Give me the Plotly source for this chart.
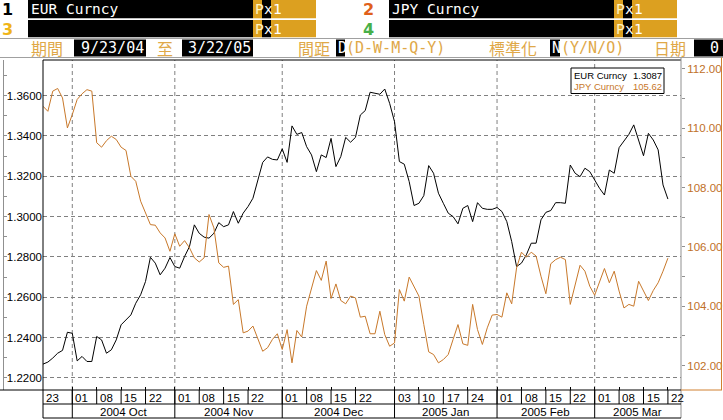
import pandas as pd
import plotly.graph_objects as go

W, H = 723, 420

# ---------------- data ----------------
start_date = "2004-09-23"
end_date = "2005-03-22"
dates = pd.bdate_range(start_date, end_date)

eur_values = [
    1.2268, 1.2278, 1.2298, 1.2322, 1.2336, 1.2426, 1.2421, 1.2284, 1.2306, 1.2281,
    1.2281, 1.2405, 1.2388, 1.2322, 1.2339, 1.2388, 1.2463, 1.2488, 1.2512, 1.2570,
    1.2612, 1.2678, 1.2798, 1.2769, 1.2711, 1.2744, 1.2797, 1.2752, 1.2744, 1.2802,
    1.2851, 1.2959, 1.2917, 1.2898, 1.2893, 1.2917, 1.2970, 1.2950, 1.2959, 1.3025,
    1.2967, 1.3017, 1.3050, 1.3091, 1.3180, 1.3269, 1.3296, 1.3284, 1.3281, 1.3336,
    1.3269, 1.3450, 1.3408, 1.3417, 1.3347, 1.3306, 1.3223, 1.3306, 1.3293, 1.3388,
    1.3248, 1.3298, 1.3393, 1.3369, 1.3393, 1.3504, 1.3526, 1.3617, 1.3612, 1.3607,
    1.3633, 1.3562, 1.3471, 1.3273, 1.3260, 1.3174, 1.3055, 1.3066, 1.3104, 1.3253,
    1.3215, 1.3116, 1.3066, 1.3017, 1.3000, 1.2964, 1.3041, 1.3055, 1.2975, 1.3069,
    1.3041, 1.3036, 1.3036, 1.3045, 1.3025, 1.2975, 1.2876, 1.2752, 1.2769, 1.2810,
    1.2868, 1.2868, 1.2984, 1.3021, 1.3030, 1.3069, 1.3069, 1.3066, 1.3256, 1.3215,
    1.3198, 1.3240, 1.3223, 1.3182, 1.3140, 1.3107, 1.3231, 1.3215, 1.3342, 1.3375,
    1.3408, 1.3455, 1.3372, 1.3302, 1.3413, 1.3380, 1.3331, 1.3157, 1.3087,
]

jpy_values = [
    110.74, 110.57, 111.25, 111.34, 111.02, 110.01, 110.46, 110.97, 111.16, 111.30,
    111.25, 109.51, 109.36, 109.58, 109.73, 109.62, 109.36, 109.25, 108.38, 108.21,
    107.54, 107.15, 106.75, 106.73, 106.47, 106.30, 105.85, 106.44, 106.02, 106.21,
    105.97, 105.63, 105.49, 105.63, 107.09, 106.64, 105.46, 105.31, 105.35, 104.06,
    104.22, 103.10, 103.16, 103.33, 102.88, 102.48, 102.60, 102.88, 103.07, 102.54,
    103.21, 102.09, 103.18, 102.96, 104.00, 104.62, 105.20, 104.87, 105.52, 104.26,
    104.75, 104.19, 104.08, 104.34, 104.28, 103.63, 103.66, 103.07, 103.07, 103.83,
    103.04, 102.65, 102.76, 104.56, 104.17, 104.98, 104.67, 104.34, 103.38, 102.46,
    102.37, 102.09, 102.20, 102.37, 102.88, 103.38, 102.73, 102.68, 104.06, 103.21,
    102.71, 103.27, 103.70, 103.72, 103.63, 104.45, 104.08, 105.29, 105.82, 105.65,
    105.82, 105.69, 105.01, 104.42, 105.43, 105.57, 105.65, 105.57, 104.06, 104.73,
    105.38, 105.18, 104.67, 104.37, 104.84, 105.27, 104.79, 105.18, 104.51, 103.94,
    104.06, 104.00, 104.84, 104.53, 104.19, 104.53, 104.79, 105.18, 105.62,
]

week_tick_dates = [
    "2004-09-23", "2004-10-01", "2004-10-08", "2004-10-15", "2004-10-22",
    "2004-11-01", "2004-11-08", "2004-11-15", "2004-11-22",
    "2004-12-01", "2004-12-08", "2004-12-15", "2004-12-22",
    "2005-01-03", "2005-01-10", "2005-01-17", "2005-01-24",
    "2005-02-01", "2005-02-08", "2005-02-15", "2005-02-22",
    "2005-03-01", "2005-03-08", "2005-03-15", "2005-03-22",
]
month_start_dates = ["2004-10-01", "2004-11-01", "2004-12-01", "2005-01-03", "2005-02-01", "2005-03-01"]
month_labels = ["2004 Oct", "2004 Nov", "2004 Dec", "2005 Jan", "2005 Feb", "2005 Mar"]

series_names = ["EUR Curncy", "JPY Curncy"]

# ---------------- helpers ----------------
EUR_COLOR = "#000000"
JPY_COLOR = "#c8782a"
ORANGE = "#dca020"
HDR_TXT = "#e0a848"
SANS = "Liberation Sans, Arial, sans-serif"
MONO = "DejaVu Sans Mono, monospace"

idx = list(range(len(dates)))
date_index = {d.strftime("%Y-%m-%d"): i for i, d in enumerate(dates)}
week_idx = [date_index[d] for d in week_tick_dates]
month_idx = [date_index[d] for d in month_start_dates]

X_END = 130.68


def px(x):
    return x / W


def py(y):
    return 1 - y / H


shapes = []
annots = []


def rect(x0, y0, x1, y1, fill, line=None, lw=1):
    shapes.append(dict(type="rect", xref="paper", yref="paper",
                       x0=px(x0), x1=px(x1), y0=py(y1), y1=py(y0),
                       fillcolor=fill, layer="above",
                       line=dict(width=0) if line is None else dict(color=line, width=lw)))


def hline(x0, x1, y, color, lw=1):
    shapes.append(dict(type="line", xref="paper", yref="paper", x0=px(x0), x1=px(x1),
                       y0=py(y), y1=py(y), line=dict(color=color, width=lw), layer="above"))


def vline(x, y0, y1, color, lw=1, xref="paper"):
    xv = px(x) if xref == "paper" else x
    shapes.append(dict(type="line", xref=xref, yref="paper", x0=xv, x1=xv,
                       y0=py(y0), y1=py(y1), line=dict(color=color, width=lw), layer="above"))


def text(x, y, s, color, size, family=SANS, anchor="left", xref="paper"):
    xv = px(x) if xref == "paper" else x
    annots.append(dict(xref=xref, yref="paper", x=xv, y=py(y), text=s, showarrow=False,
                       xanchor=anchor, yanchor="middle", borderpad=0,
                       font=dict(color=color, size=size, family=family)))


# ---------------- header ----------------
rows = [(0, 18.3), (20, 37.3)]
panels = [
    (0, 0, "1", "#000000", "EUR Curncy"),
    (361, 0, "2", "#e0601a", "JPY Curncy"),
    (0, 1, "3", "#f0b418", ""),
    (361, 1, "4", "#48b048", ""),
]
for ox, r, num, ncol, name in panels:
    y0, y1 = rows[r]
    yc = (y0 + y1) / 2
    text(ox + 1, yc + 0.5, "<b>" + num + "</b>", ncol, 16, "DejaVu Sans, sans-serif")
    rect(ox + 28, y0, ox + 253, y1, "#000000")
    rect(ox + 253, y0, ox + 262, y1, ORANGE)
    rect(ox + 262, y0, ox + 271, y1, "#000000")
    rect(ox + 271, y0, ox + 316, y1, ORANGE)
    if name:
        text(ox + 30, yc, name, "#ffffff", 14.5, MONO)
    text(ox + 253.5, yc, "P", "#fff4c0", 14.5, MONO)
    text(ox + 262.5, yc, "x", "#ffffff", 14.5, MONO)
    text(ox + 271.5, yc, "1", "#ffffff", 14.5, MONO)

# row 3
hline(0, W, 38.5, "#a0a0a0")
hline(0, W, 57.5, "#a0a0a0")
r3 = 48
CJK = "Noto Sans CJK TC, sans-serif"
text(30, r3, "期間", HDR_TXT, 16, CJK)
rect(74, 39.5, 146, 56.5, "#000000")
text(145, r3, "9/23/04", "#ffffff", 15, MONO, anchor="right")
text(156, r3, "至", HDR_TXT, 16, CJK)
rect(182, 39.5, 253, 56.5, "#000000")
text(252, r3, "3/22/05", "#ffffff", 15, MONO, anchor="right")
text(297, r3, "間距", HDR_TXT, 16, CJK)
rect(336, 39.5, 345, 56.5, "#000000")
text(336.5, r3, "D", "#ffffff", 15, MONO)
text(345, r3, "(D-W-M-Q-Y)", HDR_TXT, 15, MONO)
text(488, r3, "標準化", HDR_TXT, 16, CJK)
rect(550, 39.5, 560, 56.5, "#000000")
text(550.5, r3, "N", "#ffffff", 15, MONO)
text(560, r3, "(Y/N/O)", HDR_TXT, 15, MONO)
text(653, r3, "日期", HDR_TXT, 16, CJK)
rect(694, 39.5, 723, 56.5, "#000000")
text(720, r3, "0", "#ffffff", 15, MONO, anchor="right")

# ---------------- plot frame ----------------
for mi in month_idx:
    shapes.append(dict(type="line", xref="x", yref="y domain", x0=mi, x1=mi, y0=0, y1=1,
                       line=dict(color="#808080", width=1, dash="4px,3px"), layer="below"))
hline(43, 681, 60, "#000000")
vline(43, 60, 418, "#000000")
vline(681, 57.5, 418, "#909090")
hline(0, 681, 390, "#000000")
# right panel (JPY axis)
vline(721.5, 57.5, 390, "#d08030")
hline(681, 722, 390, "#d08030")

# date axis
hline(43, 681, 404, "#000000")
hline(43, 681, 418, "#000000")
for wi, d in zip(week_idx, week_tick_dates):
    if wi > 0:
        shapes.append(dict(type="line", xref="x", yref="paper", x0=wi, x1=wi,
                           y0=py(390), y1=py(404), line=dict(color="#000000", width=1), layer="above"))
    text(wi + 0.45, 397.5, d[-2:], "#000000", 11.5, SANS, xref="x")
bounds = month_idx + [X_END]
for k, mi in enumerate(month_idx):
    shapes.append(dict(type="line", xref="x", yref="paper", x0=mi, x1=mi,
                       y0=py(390), y1=py(418), line=dict(color="#000000", width=1), layer="above"))
    text((bounds[k] + bounds[k + 1]) / 2, 411.5, month_labels[k], "#000000", 11.5, SANS,
         anchor="center", xref="x")

# legend box
rect(571, 68, 664, 93.5, "#ffffff", line="#000000", lw=1)
text(573, 75.5, series_names[0], "#000000", 9.5, SANS)
text(662.5, 75.5, f"{eur_values[-1]:.4f}", "#000000", 9.5, SANS, anchor="right")
text(573, 86.5, series_names[1], JPY_COLOR, 9.5, SANS)
text(662.5, 86.5, f"{jpy_values[-1]:.2f}", JPY_COLOR, 9.5, SANS, anchor="right")

# ---------------- figure ----------------
fig = go.Figure()
fig.add_trace(go.Scatter(x=idx, y=eur_values, mode="lines", name=series_names[0],
                         line=dict(color=EUR_COLOR, width=1), yaxis="y"))
fig.add_trace(go.Scatter(x=idx, y=jpy_values, mode="lines", name=series_names[1],
                         line=dict(color=JPY_COLOR, width=1), yaxis="y2"))
# invisible trace carrying the outer tick rail
fig.add_trace(go.Scatter(x=idx, y=eur_values, mode="lines", line=dict(color="rgba(0,0,0,0)"),
                         yaxis="y3", showlegend=False, hoverinfo="skip"))

EUR_RANGE = [1.21395, 1.3777]
JPY_RANGE = [101.174, 112.30]
ydom = [1 - 390 / H, 1 - 60 / H]

fig.update_layout(
    width=W, height=H, autosize=False,
    margin=dict(l=0, r=0, t=0, b=0),
    paper_bgcolor="#ffffff", plot_bgcolor="#ffffff",
    showlegend=False, hovermode=False,
    xaxis=dict(domain=[px(43), px(681)], range=[0, X_END], showgrid=False, zeroline=False,
               tickmode="array", tickvals=week_idx, ticks="inside", ticklen=3,
               tickcolor="#000000", showticklabels=False, showline=False),
    yaxis=dict(domain=ydom, range=EUR_RANGE, tickmode="linear", tick0=1.22, dtick=0.02,
               tickformat=".4f", showgrid=True, gridcolor="#808080", griddash="4px,3px",
               gridwidth=1, zeroline=False, ticks="", showline=False,
               tickfont=dict(family=SANS, size=11.5, color="#000000")),
    yaxis2=dict(domain=ydom, range=JPY_RANGE, overlaying="y", side="right", anchor="x",
                tickmode="linear", tick0=102, dtick=2, tickformat=".2f", showgrid=False,
                zeroline=False, ticks="outside", ticklen=3, tickcolor="#909090",
                minor=dict(dtick=1, tick0=102, ticks="outside", ticklen=3, tickcolor="#909090"),
                showline=False, tickfont=dict(family=SANS, size=11.5, color="#c07028")),
    yaxis3=dict(domain=ydom, range=EUR_RANGE, overlaying="y", anchor="free", position=px(3),
                side="left", tickmode="linear", tick0=1.22, dtick=0.01, ticks="inside",
                ticklen=3, tickcolor="#909090", showticklabels=False, showgrid=False,
                zeroline=False, showline=True, linecolor="#909090", linewidth=1),
    shapes=shapes, annotations=annots,
)

fig.write_html("out.html", config={"displayModeBar": False, "staticPlot": True},
               post_script="document.body.style.margin='0';document.body.style.overflow='hidden';")
